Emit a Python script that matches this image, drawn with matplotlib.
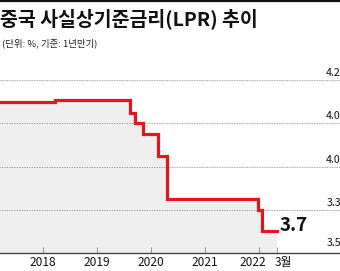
import matplotlib
matplotlib.use("Agg")
import matplotlib.pyplot as plt
from matplotlib.transforms import offset_copy

plt.rcParams['font.family'] = ['Noto Sans CJK KR', 'DejaVu Sans']

# Data (decimal years, LPR %)
dates = [2017.2, 2018.22, 2019.6, 2019.7, 2019.85, 2020.13, 2020.3, 2021.97, 2022.05, 2022.33]
rates = [4.30, 4.31, 4.25, 4.20, 4.15, 4.05, 3.85, 3.80, 3.70, 3.70]
grid_vals = [4.4, 4.2, 4.0, 3.8]
grid_labels = ["4.2", "4.0", "4.0", "3.3"]
bottom_val = 3.6
bottom_label = "3.5"
xtick_pos = [2018, 2019, 2020, 2021, 2022, 2022.33]
xtick_labels = ["2018", "2019", "2020", "2021", "2022", "3월"]
last_label = "3.7"

W, H = 340, 271
fig = plt.figure(figsize=(W / 100, H / 100), dpi=100)
fig.patch.set_facecolor('white')

ax = fig.add_axes([0, 18 / H, 1, 194.4 / H])
ax.set_xlim(2017.2, 2017.2 + 340 / 54)
ax.set_ylim(3.6, 4.5)
ax.set_facecolor('white')

ax.fill_between(dates, rates, bottom_val, step='post', color='#efefef', lw=0, zorder=1)
for g in grid_vals:
    ax.axhline(g, color='#8a8a8a', lw=0.6, ls=(0, (1, 1)), zorder=2)
ax.step(dates, rates, where='post', color='#e3161d', lw=2.3, zorder=3, solid_joinstyle='miter')

for s in ['top', 'left', 'right']:
    ax.spines[s].set_visible(False)
ax.spines['bottom'].set_color('#444444')
ax.spines['bottom'].set_linewidth(1.0)
ax.set_yticks([])
ax.set_xticks(xtick_pos)
ax.tick_params(axis='x', direction='in', length=4, width=0.6, color='#888888', labelbottom=False)

lab_off = {"2022": -6, "3월": 6}
for x, l in zip(xtick_pos, xtick_labels):
    tr = offset_copy(ax.transData, fig=fig, x=lab_off.get(l, 0), y=-3, units='dots')
    ax.text(x, 3.6, l, transform=tr,
            ha='center', va='top', fontsize=8.6, color='#111111', clip_on=False)

for g, l in zip(grid_vals + [bottom_val], grid_labels + [bottom_label]):
    tr = offset_copy(ax.get_yaxis_transform(), fig=fig, x=1, y=2 if g != bottom_val else 5, units='dots')
    ax.text(1.0, g, l, transform=tr, ha='right', va='bottom', fontsize=7.6, color='#111111', clip_on=False)

ax.text(dates[-1], 3.725, last_label, transform=offset_copy(ax.transData, fig=fig, x=3, y=0, units='dots'),
        ha='left', va='center', fontsize=13.5, fontweight='bold', color='#111111')

# Title & subtitle
fig.add_artist(plt.Line2D([0, 1], [1 - 1 / H, 1 - 1 / H], color='#111111', lw=1.6, transform=fig.transFigure))
fig.text(0.0, 1 - 19 / H, "중국 사실상기준금리(LPR) 추이", ha='left', va='center',
         fontsize=14, fontweight='black', color='#111111')
fig.text(2 / W, 1 - 43 / H, "(단위: %, 기준: 1년만기)", ha='left', va='center',
         fontsize=6.8, color='#222222')

fig.savefig('out.png', dpi=100, facecolor='white')
